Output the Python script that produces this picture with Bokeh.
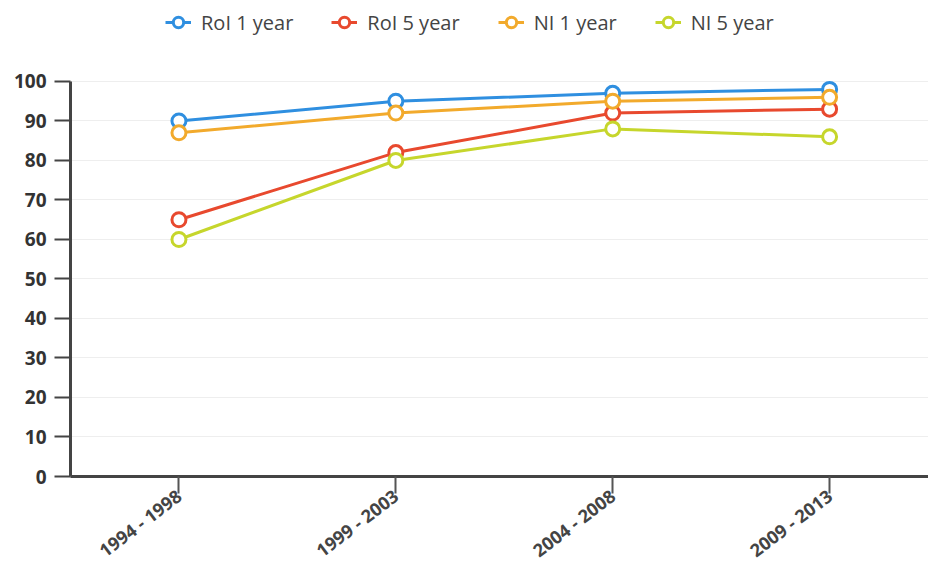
from bokeh.plotting import figure
from bokeh.models import Legend, LegendItem, FixedTicker, Range1d
from bokeh.embed import file_html
from bokeh.resources import INLINE

periods = ["1994 - 1998", "1999 - 2003", "2004 - 2008", "2009 - 2013"]
roi_1yr = [90, 95, 97, 98]
roi_5yr = [65, 82, 92, 93]
ni_1yr = [87, 92, 95, 96]
ni_5yr = [60, 80, 88, 86]
y_ticks = [0, 10, 20, 30, 40, 50, 60, 70, 80, 90, 100]

series = [
    ("RoI 1 year", roi_1yr, "#2f8fe0"),
    ("RoI 5 year", roi_5yr, "#e8492e"),
    ("NI 1 year", ni_1yr, "#f2aa2c"),
    ("NI 5 year", ni_5yr, "#c6d62c"),
]

FONT = "Open Sans"

# frame runs to the top of the canvas so the legend can sit above the 100 line
p = figure(width=928, height=574, output_backend="svg", toolbar_location=None,
           x_range=Range1d(-0.5, 3.456), y_range=Range1d(0, 120.5),
           min_border_left=70, min_border_right=0, min_border_top=0,
           min_border_bottom=98)
p.outline_line_color = None
p.background_fill_color = "white"
p.border_fill_color = "white"

x = list(range(len(periods)))
items = []
for name, vals, col in series:
    r1 = p.line(x, vals, line_color=col, line_width=3)
    r2 = p.scatter(x, vals, size=14, fill_color="white", line_color=col, line_width=3)
    items.append(LegendItem(label=name, renderers=[r1, r2]))

# y axis (line limited to 0..100)
p.yaxis.ticker = FixedTicker(ticks=y_ticks)
p.yaxis.bounds = (0, 100)
p.yaxis.axis_line_color = "#444444"
p.yaxis.axis_line_width = 3
p.yaxis.major_tick_line_color = "#444444"
p.yaxis.major_tick_line_width = 2
p.yaxis.major_tick_out = 16
p.yaxis.major_tick_in = 0
p.yaxis.minor_tick_line_color = None
p.yaxis.major_label_text_font = FONT
p.yaxis.major_label_text_font_size = "19px"
p.yaxis.major_label_text_font_style = "bold"
p.yaxis.major_label_text_color = "#333333"
p.yaxis.major_label_standoff = 8

# x axis
p.xaxis.ticker = FixedTicker(ticks=x)
p.xaxis.major_label_overrides = {i: s for i, s in enumerate(periods)}
p.xaxis.axis_line_color = "#444444"
p.xaxis.axis_line_width = 3
p.xaxis.major_tick_line_color = "#555555"
p.xaxis.major_tick_line_width = 2
p.xaxis.major_tick_out = 17
p.xaxis.major_tick_in = 0
p.xaxis.minor_tick_line_color = None
p.xaxis.major_label_orientation = 0.65
p.xaxis.major_label_text_font = FONT
p.xaxis.major_label_text_font_size = "18px"
p.xaxis.major_label_text_font_style = "bold"
p.xaxis.major_label_text_color = "#444444"
p.xaxis.major_label_standoff = 0

p.xgrid.grid_line_color = None
p.ygrid.grid_line_color = "#eeeeee"
p.ygrid.grid_line_width = 1

legend = Legend(items=items, orientation="horizontal", location=(95, 440),
                label_text_font=FONT, label_text_font_size="20px",
                label_text_color="#444444", glyph_width=26, glyph_height=28,
                label_standoff=10, spacing=38, border_line_color=None,
                background_fill_alpha=0)
p.add_layout(legend, "center")

open("out.html", "w").write(file_html(p, INLINE))
